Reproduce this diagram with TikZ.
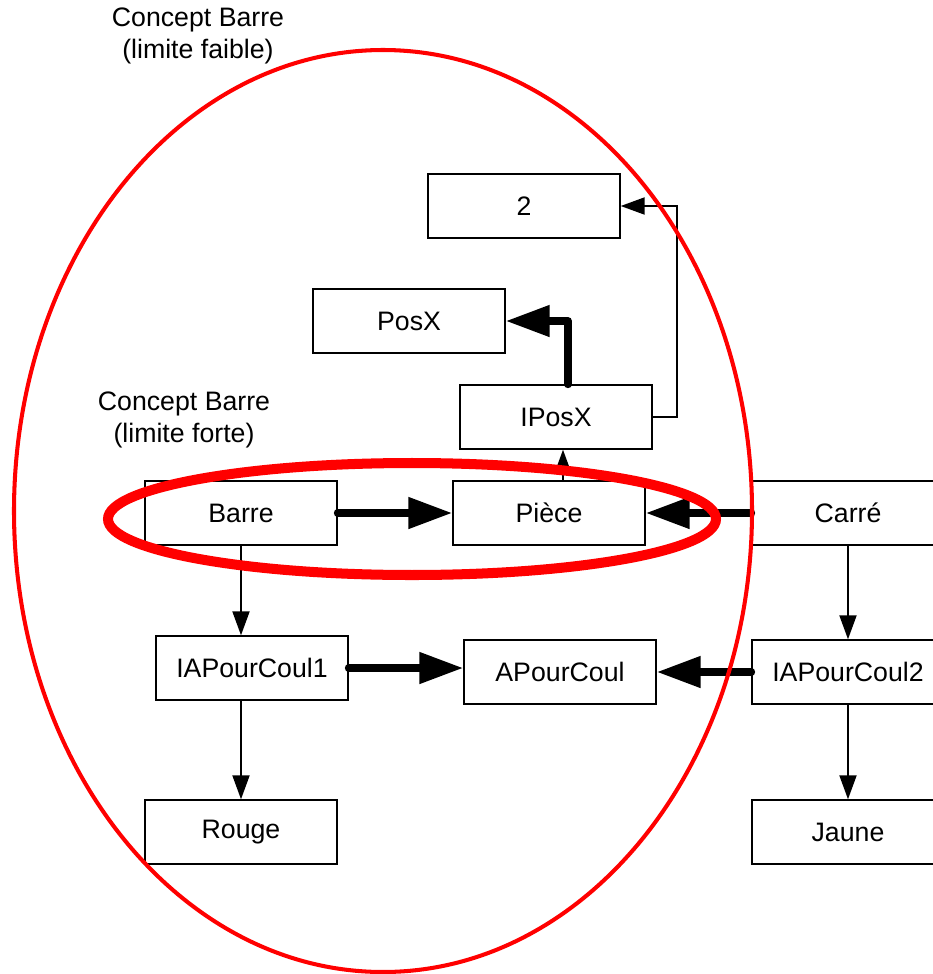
\documentclass[tikz,border=0pt]{standalone}
\usepackage{fontspec}
\setmainfont{Liberation Sans}
\usetikzlibrary{arrows.meta}

\tikzset{
	box/.style={draw, line width=0.8pt, fill=white, minimum width=3.84cm, minimum height=1.28cm, inner sep=0pt},
	thinarrow/.style={line width=1.1pt, -{Triangle[length=0.48cm, width=0.34cm]}},
	thickarrow/.style={line width=4.4pt, line cap=round, line join=round, -{Triangle[length=0.88cm, width=0.6cm]}},
	concept/.style={draw=red, line width=2.3pt},
}

\begin{document}
\begin{tikzpicture}[x=0.02cm, y=-0.02cm, font=\fontsize{15.2}{18}\selectfont]
	
	\useasboundingbox (0,0) rectangle (933,974);
	
	\node[box] (two)   at (524, 206) {2};
	\node[box] (posx)  at (409, 321) {PosX};
	\node[box] (iposx) at (556, 417) {IPosX};
	\node[box] (barre) at (241, 513) {Barre};
	\node[box] (piece) at (549, 513) {Pièce};
	\node[box] (carre) at (848, 513) {Carré};
	\node[box] (iapc1) at (252, 668) {IAPourCoul1};
	\node[box] (apc)   at (560, 672) {APourCoul};
	\node[box] (iapc2) at (848, 672) {IAPourCoul2};
	\node[box] (rouge) at (241, 832) {Rouge};
	\node[box] (jaune) at (848, 832) {Jaune};
	
	\node[align=center] (faible) at (198, 36)  {Concept Barre\\(limite faible)};
	\node[align=center] (forte)  at (184, 420) {Concept Barre\\(limite forte)};
	
	
	\draw[thinarrow] (iposx.east) -- ++(0.48cm,0) |- (two.east);
	\draw[thickarrow] ([xshift=0.24cm]iposx.north) |- (posx.east);
	\draw[thinarrow] ([xshift=0.28cm]piece.north) coordinate (p) -- (p |- iposx.south);
	\draw[thickarrow] (barre.east) -- (piece.west);
	\draw[thickarrow] (carre.west) -- (piece.east);
	\draw[thinarrow] (barre.south) -- (barre.south |- iapc1.north);
	\draw[thinarrow] (iapc1.south -| rouge.north) -- (rouge.north);
	\draw[thickarrow] (iapc1.east) -- (iapc1.east -| apc.west);
	\draw[thickarrow] (iapc2.west) -- (apc.east);
	\draw[thinarrow] (carre.south) -- (iapc2.north);
	\draw[thinarrow] (iapc2.south) -- (jaune.north);
	
	
	\draw[concept] (383, 511) ellipse [x radius=369, y radius=461];
	\draw[concept, line width=5.7pt] (412, 519) ellipse [x radius=304, y radius=56];
	
\end{tikzpicture}
\end{document}
